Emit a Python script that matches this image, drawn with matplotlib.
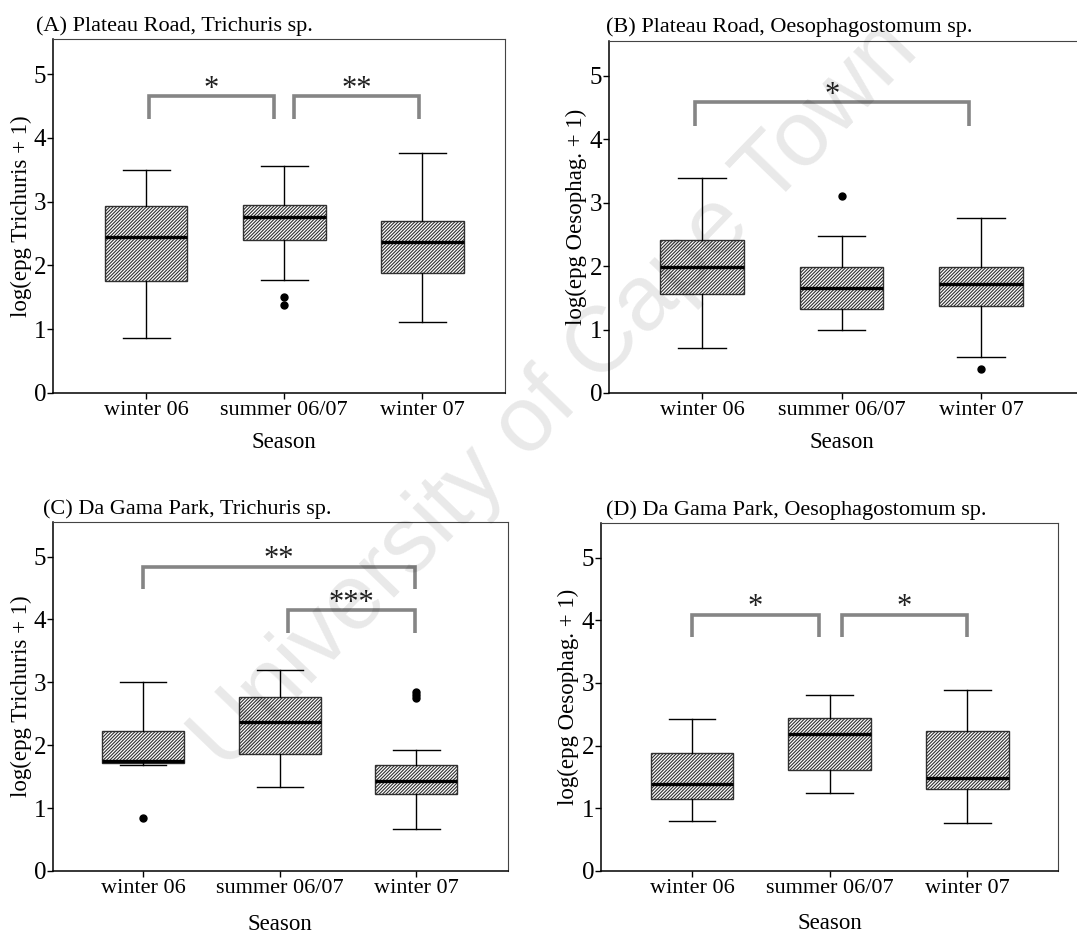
import matplotlib
matplotlib.use('Agg')
import matplotlib.pyplot as plt

plt.rcParams['font.family'] = ['Liberation Serif', 'DejaVu Serif']
plt.rcParams['hatch.linewidth'] = 0.8

seasons = ['winter 06', 'summer 06/07', 'winter 07']

# (A) Plateau Road, Trichuris
a_med = [2.44, 2.76, 2.37]
a_q1 = [1.76, 2.40, 1.88]
a_q3 = [2.93, 2.95, 2.70]
a_lo = [0.86, 1.77, 1.12]
a_hi = [3.49, 3.56, 3.76]
a_out = [[], [1.51, 1.38], []]
a_sig = [(1, 2, '*'), (2, 3, '**')]

# (B) Plateau Road, Oesophagostomum
b_med = [1.98, 1.66, 1.71]
b_q1 = [1.56, 1.32, 1.37]
b_q3 = [2.41, 1.99, 1.99]
b_lo = [0.71, 0.99, 0.57]
b_hi = [3.38, 2.47, 2.75]
b_out = [[], [3.11], [0.38]]
b_sig = [(1, 3, '*')]

# (C) Da Gama Park, Trichuris
c_med = [1.75, 2.37, 1.43]
c_q1 = [1.71, 1.86, 1.23]
c_q3 = [2.23, 2.76, 1.68]
c_lo = [1.69, 1.34, 0.66]
c_hi = [3.01, 3.20, 1.92]
c_out = [[0.84], [], [2.85, 2.80, 2.75]]
c_sig = [(1, 3, '**'), (2, 3, '***')]

# (D) Da Gama Park, Oesophagostomum
d_med = [1.39, 2.18, 1.48]
d_q1 = [1.15, 1.61, 1.30]
d_q3 = [1.88, 2.44, 2.23]
d_lo = [0.80, 1.25, 0.76]
d_hi = [2.43, 2.81, 2.88]
d_out = [[], [], []]
d_sig = [(1, 2, '*'), (2, 3, '*')]

y_ticks = [0, 1, 2, 3, 4, 5]

panels = [
    dict(title='(A) Plateau Road, Trichuris sp.', ylabel='log(epg Trichuris + 1)',
         med=a_med, q1=a_q1, q3=a_q3, lo=a_lo, hi=a_hi, out=a_out, sig=a_sig,
         rect=[0.0492, 0.5788, 0.4197, 0.3794], xlim=(0.326, 3.60),
         title_xy=(0.0334, 0.9668), xlab_y=-0.110,
         brackets=[(0.02, -0.07, 4.65, 4.30), (0.07, -0.02, 4.65, 4.30)]),
    dict(title='(B) Plateau Road, Oesophagostomum sp.', ylabel='log(epg Oesophag. + 1)',
         med=b_med, q1=b_q1, q3=b_q3, lo=b_lo, hi=b_hi, out=b_out, sig=b_sig,
         rect=[0.5655, 0.5788, 0.4375, 0.3776], xlim=(0.333, 3.71),
         title_xy=(0.5627, 0.9657), xlab_y=-0.110,
         brackets=[(-0.05, -0.09, 4.58, 4.21)]),
    dict(title='(C) Da Gama Park, Trichuris sp.', ylabel='log(epg Trichuris + 1)',
         med=c_med, q1=c_q1, q3=c_q3, lo=c_lo, hi=c_hi, out=c_out, sig=c_sig,
         rect=[0.0492, 0.0665, 0.4225, 0.3740], xlim=(0.34, 3.67),
         title_xy=(0.0400, 0.4490), xlab_y=-0.122,
         brackets=[(0.0, -0.01, 4.84, 4.48), (0.06, -0.01, 4.15, 3.78)]),
    dict(title='(D) Da Gama Park, Oesophagostomum sp.', ylabel='log(epg Oesophag. + 1)',
         med=d_med, q1=d_q1, q3=d_q3, lo=d_lo, hi=d_hi, out=d_out, sig=d_sig,
         rect=[0.5580, 0.0665, 0.4244, 0.3729], xlim=(0.338, 3.66),
         title_xy=(0.5627, 0.4480), xlab_y=-0.122,
         brackets=[(0.0, -0.08, 4.09, 3.73), (0.09, 0.0, 4.09, 3.73)]),
]

fig = plt.figure(figsize=(10.77, 9.33), dpi=100)

for p in panels:
    ax = fig.add_axes(p['rect'])
    stats = []
    for i, name in enumerate(seasons):
        stats.append(dict(label=name, med=p['med'][i], q1=p['q1'][i], q3=p['q3'][i],
                          whislo=p['lo'][i], whishi=p['hi'][i], fliers=p['out'][i]))
    ax.bxp(stats, positions=[1, 2, 3], widths=0.6, capwidths=0.34,
           patch_artist=True, showfliers=True,
           boxprops=dict(facecolor='white', edgecolor='#303030', hatch='//////////',
                         linewidth=1.0),
           medianprops=dict(color='black', linewidth=2.4, solid_capstyle='butt'),
           whiskerprops=dict(color='black', linewidth=1.0),
           capprops=dict(color='black', linewidth=1.0),
           flierprops=dict(marker='o', markerfacecolor='black', markeredgecolor='black',
                           markersize=5))

    # significance brackets
    for (i, j, stars), (dl, dr, ytop, yleg) in zip(p['sig'], p['brackets']):
        x0, x1 = i + dl, j + dr
        ax.plot([x0, x0, x1, x1], [yleg, ytop, ytop, yleg], color='#858585',
                linewidth=2.6, solid_joinstyle='miter', solid_capstyle='butt',
                clip_on=False)
        ax.text((x0 + x1) / 2, ytop - 0.01, stars, ha='center', va='baseline',
                fontsize=22, color='#202020')

    ax.set_xlim(*p['xlim'])
    ax.set_ylim(0, 5.55)
    ax.set_yticks(y_ticks)
    ax.set_xticks([1, 2, 3])
    ax.set_xticklabels(seasons, fontsize=16)
    ax.tick_params(axis='y', labelsize=18, length=4.5, width=1.0, pad=0.5, direction='out')
    ax.tick_params(axis='x', length=4.5, width=1.0, pad=1.5, direction='out')
    for side in ('left', 'bottom'):
        ax.spines[side].set_color('black')
        ax.spines[side].set_linewidth(1.1)
    for side in ('top', 'right'):
        ax.spines[side].set_color('#444444')
        ax.spines[side].set_linewidth(0.8)

    ax.set_ylabel(p['ylabel'], fontsize=16.5)
    ax.yaxis.set_label_coords(-0.047, 0.5)
    ax.set_xlabel('Season', fontsize=16.5)
    xl = p['xlim']
    ax.xaxis.set_label_coords((2 - xl[0]) / (xl[1] - xl[0]), p['xlab_y'])

    fig.text(p['title_xy'][0], p['title_xy'][1], p['title'], fontsize=16,
             ha='left', va='baseline')

fig.text(0.516, 0.5756, 'University of Cape Town', rotation=46, fontsize=67,
         family=['Liberation Sans', 'DejaVu Sans'], color='black', alpha=0.09,
         ha='center', va='center', rotation_mode='anchor', zorder=10)

fig.savefig('out.png', dpi=100)
